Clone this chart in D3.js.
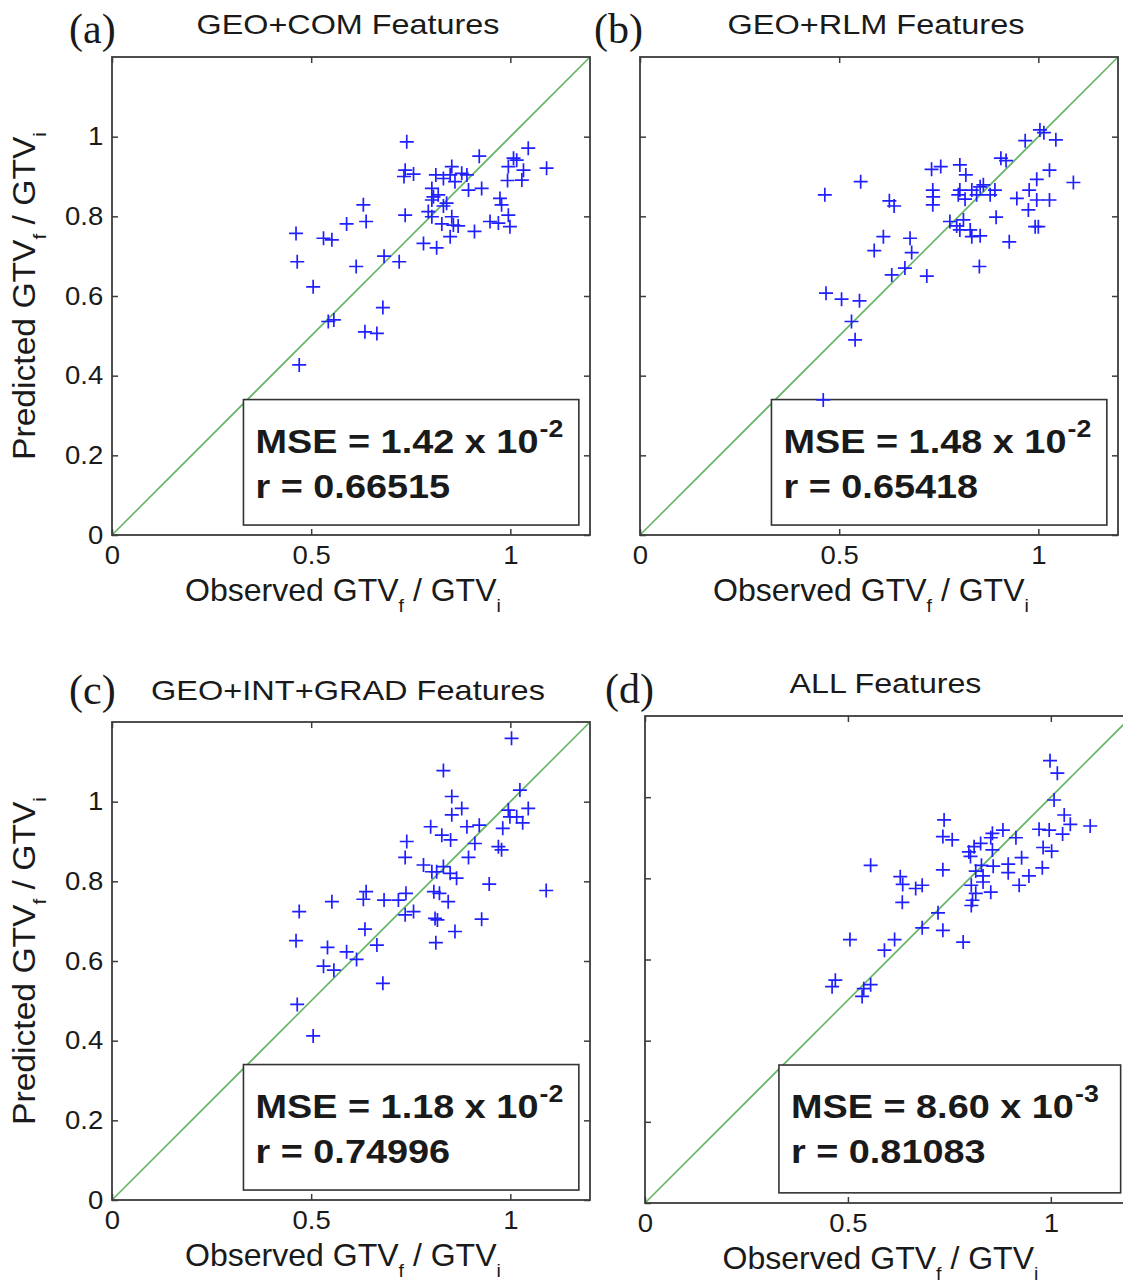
<!DOCTYPE html>
<html><head><meta charset="utf-8">
<script src="https://cdn.jsdelivr.net/npm/d3@7"></script>
<style>body{margin:0;background:#fff}svg{display:block}</style>
</head><body>
<svg id="chart" width="1123" height="1283"></svg>
<script>
// ---- Data ----
const obsA=[0.740,0.922,1.045,1.008,1.016,0.995,1.033,0.993,1.029,1.091,0.736,0.733,0.757,0.853,0.813,0.832,0.849,0.861,0.878,0.891,0.803,0.895,0.928,0.807,0.819,0.803,0.840,0.832,0.974,0.978,0.995,0.794,0.803,0.853,0.828,0.857,0.869,0.849,0.910,0.949,0.970,0.999,0.782,0.815,0.736,0.631,0.638,0.589,0.462,0.531,0.552,0.465,0.613,0.683,0.721,0.505,0.680,0.543,0.557,0.635,0.665,0.470];
const predA=[0.987,0.951,0.971,0.946,0.941,0.925,0.916,0.890,0.891,0.921,0.916,0.900,0.906,0.925,0.904,0.895,0.904,0.887,0.908,0.904,0.870,0.866,0.870,0.849,0.854,0.841,0.833,0.826,0.845,0.829,0.803,0.812,0.799,0.799,0.781,0.778,0.776,0.749,0.762,0.787,0.783,0.774,0.732,0.721,0.803,0.829,0.787,0.781,0.757,0.745,0.741,0.686,0.674,0.700,0.686,0.623,0.571,0.536,0.540,0.510,0.506,0.427];

const obsB=[1.004,1.014,0.967,1.044,0.906,0.919,0.732,0.755,0.803,0.818,1.028,0.996,1.088,0.554,0.464,0.977,0.946,0.996,1.028,0.975,0.735,0.736,0.735,0.803,0.799,0.833,0.854,0.862,0.845,0.879,0.891,0.816,0.626,0.638,0.894,0.778,0.795,0.812,0.803,0.829,0.833,0.854,0.992,1.000,0.927,0.611,0.678,0.588,0.682,0.665,0.632,0.720,0.852,0.467,0.506,0.551,0.531,0.540,0.460];
const predB=[1.017,1.010,0.990,0.992,0.946,0.940,0.918,0.925,0.929,0.904,0.916,0.893,0.885,0.887,0.854,0.866,0.845,0.841,0.841,0.816,0.866,0.849,0.829,0.866,0.854,0.866,0.874,0.879,0.854,0.854,0.866,0.843,0.839,0.826,0.798,0.787,0.776,0.791,0.766,0.766,0.749,0.751,0.774,0.774,0.736,0.749,0.745,0.714,0.709,0.670,0.653,0.650,0.674,0.607,0.592,0.588,0.536,0.490,0.339];

const obsC=[1.003,0.832,1.024,0.853,0.878,0.853,1.045,0.995,0.999,1.016,1.031,0.981,0.800,0.891,0.922,0.828,0.850,0.740,0.911,0.970,0.978,0.736,0.895,0.782,0.803,0.815,0.832,0.849,0.865,0.947,1.090,0.808,0.822,0.844,0.638,0.631,0.552,0.683,0.719,0.738,0.470,0.736,0.757,0.811,0.817,0.928,0.635,0.861,0.462,0.541,0.589,0.665,0.813,0.614,0.531,0.557,0.680,0.465,0.505];
const predC=[1.159,1.078,1.029,1.013,0.983,0.967,0.983,0.979,0.962,0.962,0.947,0.933,0.937,0.937,0.941,0.916,0.904,0.900,0.895,0.887,0.879,0.860,0.860,0.841,0.824,0.824,0.837,0.820,0.808,0.793,0.777,0.774,0.770,0.749,0.774,0.755,0.749,0.753,0.753,0.770,0.724,0.716,0.724,0.707,0.703,0.705,0.680,0.674,0.651,0.634,0.623,0.640,0.646,0.604,0.587,0.577,0.544,0.491,0.412];

const obsD=[0.998,1.016,1.008,0.737,1.033,1.048,1.097,0.882,0.856,0.852,0.914,0.971,0.996,1.029,0.734,0.757,0.827,0.811,0.798,0.856,0.802,0.981,1.002,0.928,0.556,0.734,0.829,0.858,0.895,0.815,0.833,0.895,0.979,0.946,0.922,0.629,0.635,0.667,0.683,0.804,0.833,0.852,0.815,0.807,0.804,0.634,0.722,0.683,0.734,0.784,0.505,0.615,0.590,0.469,0.461,0.556,0.539,0.535];
const predD=[1.090,1.059,0.993,0.944,0.956,0.933,0.929,0.919,0.911,0.900,0.900,0.921,0.919,0.909,0.903,0.895,0.886,0.878,0.865,0.870,0.854,0.876,0.867,0.851,0.832,0.821,0.832,0.830,0.835,0.818,0.806,0.814,0.826,0.806,0.783,0.804,0.785,0.775,0.783,0.783,0.791,0.766,0.763,0.746,0.733,0.741,0.715,0.678,0.672,0.643,0.649,0.649,0.623,0.549,0.533,0.538,0.528,0.509];

const xTicks=[0,0.5,1];
const xTickLabels=["0","0.5","1"];
const yTicks=[0,0.2,0.4,0.6,0.8,1];
const yTickLabels=["0","0.2","0.4","0.6","0.8","1"];
const titles=["GEO+COM Features","GEO+RLM Features","GEO+INT+GRAD Features","ALL Features"];
const letters=["(a)","(b)","(c)","(d)"];
const mseMant=["1.42","1.48","1.18","8.60"];
const mseExp=["-2","-2","-2","-3"];
const rVals=["0.66515","0.65418","0.74996","0.81083"];
const seriesObs=[obsA,obsB,obsC,obsD];
const seriesPred=[predA,predB,predC,predD];

// ---- Layout ----
const layout=[
  {left:112,top:57,size:478,yLab:true,lx:69,ly:43,ty:34,tw:303},
  {left:640,top:57,size:478,yLab:false,lx:594,ly:43,ty:34,tw:297},
  {left:112,top:722,size:478,yLab:true,lx:69,ly:704,ty:700,tw:394},
  {left:645,top:716,size:487,yLab:false,lx:605,ly:703,ty:693,tw:192}
];
const FONT="'Liberation Sans', Arial, sans-serif";
const SERIF="'Liberation Serif', 'Times New Roman', serif";
const INK="#1a1a1a", FRAME="#3c3c3c";

const svg=d3.select("#chart");
svg.append("rect").attr("width",1123).attr("height",1283).attr("fill","#fff");

function fit(sel,x,y,target,rot){
  const w=sel.node().getBBox().width;
  const s=target/w;
  sel.attr("transform",`translate(${x},${y})${rot?" rotate(-90)":""} scale(${s},1)`);
  return s;
}
function gtvLabel(sel,prefix){
  sel.append("tspan").text(prefix+" GTV");
  sel.append("tspan").attr("font-size",19).attr("dy",11).text("f");
  sel.append("tspan").attr("dy",-11).text(" / GTV");
  sel.append("tspan").attr("font-size",19).attr("dy",11).text("i");
}

layout.forEach((L,i)=>{
  const x=d3.scaleLinear().domain([0,1.2]).range([L.left,L.left+L.size]);
  const y=d3.scaleLinear().domain([0,1.2]).range([L.top+L.size,L.top]);
  const g=svg.append("g");

  // identity line
  g.append("line").attr("x1",x(0)).attr("y1",y(0)).attr("x2",x(1.2)).attr("y2",y(1.2))
    .attr("stroke","#62b562").attr("stroke-width",1.6);

  // stats box
  const bx0=x(0.33),bx1=x(1.172),by0=y(0.34),by1=y(0.025);
  g.append("rect").attr("x",bx0).attr("y",by0).attr("width",bx1-bx0).attr("height",by1-by0)
    .attr("fill","#fff").attr("stroke","#333").attr("stroke-width",1.6);

  // points
  const obs=seriesObs[i],pred=seriesPred[i];
  g.append("g").selectAll("path").data(obs.map((o,k)=>[o,pred[k]])).join("path")
    .attr("d",d=>{const px=x(d[0]),py=y(d[1]);return `M${px-7},${py}h14M${px},${py-7}v14`;})
    .attr("stroke","#1f1fff").attr("stroke-width",1.7).attr("fill","none");

  // frame
  g.append("rect").attr("x",x(0)).attr("y",y(1.2)).attr("width",x(1.2)-x(0)).attr("height",y(0)-y(1.2))
    .attr("fill","none").attr("stroke",FRAME).attr("stroke-width",1.8);

  // axes (ticks inward)
  const styleAxis=a=>{a.select(".domain").remove();a.selectAll(".tick line").attr("stroke",FRAME).attr("stroke-width",1.5);
    a.selectAll("text").attr("fill",INK).attr("font-family",FONT).attr("font-size",25);};
  const ab=g.append("g").attr("transform",`translate(0,${y(0)})`)
    .call(d3.axisBottom(x).tickValues(xTicks).tickFormat((d,k)=>xTickLabels[k]).tickSizeInner(-6).tickSizeOuter(0).tickPadding(11));
  styleAxis(ab); ab.selectAll("text").attr("transform","scale(1.1,1)");
  g.append("g").attr("transform",`translate(0,${y(1.2)})`)
    .call(d3.axisTop(x).tickValues(xTicks).tickFormat("").tickSizeInner(-6).tickSizeOuter(0)).call(styleAxis);
  const al=g.append("g").attr("transform",`translate(${x(0)},0)`)
    .call(d3.axisLeft(y).tickValues(yTicks).tickFormat((d,k)=>L.yLab?yTickLabels[k]:"").tickSizeInner(-6).tickSizeOuter(0).tickPadding(8));
  styleAxis(al); al.selectAll("text").attr("transform","scale(1.1,1)");
  g.append("g").attr("transform",`translate(${x(1.2)},0)`)
    .call(d3.axisRight(y).tickValues(yTicks).tickFormat("").tickSizeInner(-6).tickSizeOuter(0)).call(styleAxis);

  // stats text
  const t1=g.append("text").attr("font-family",FONT).attr("font-weight","bold").attr("font-size",34).attr("fill",INK);
  t1.append("tspan").text(`MSE = ${mseMant[i]} x 10`);
  t1.append("tspan").attr("font-size",24).attr("dy",-16).attr("dx",1).text(mseExp[i]);
  const s=fit(t1,bx0+12,by0+53,308);
  g.append("text").attr("font-family",FONT).attr("font-weight","bold").attr("font-size",34).attr("fill",INK)
    .attr("transform",`translate(${bx0+12},${by0+98}) scale(${s},1)`).text(`r = ${rVals[i]}`);

  // title
  const cx=(x(0)+x(1.2))/2;
  const tt=g.append("text").attr("font-family",FONT).attr("font-size",27).attr("fill",INK)
    .attr("text-anchor","middle").text(titles[i]);
  fit(tt,cx-3,L.ty,L.tw);

  // panel letter
  g.append("text").attr("font-family",SERIF).attr("font-size",42).attr("fill",INK)
    .attr("x",L.lx).attr("y",L.ly).text(letters[i]);

  // x label
  const xl=g.append("text").attr("font-family",FONT).attr("font-size",31).attr("fill",INK).attr("text-anchor","middle");
  gtvLabel(xl,"Observed");
  fit(xl,cx-8,y(0)+66,316);

  // y label
  if(L.yLab){
    const yl=g.append("text").attr("font-family",FONT).attr("font-size",31).attr("fill",INK).attr("text-anchor","middle");
    gtvLabel(yl,"Predicted");
    fit(yl,35,(y(0)+y(1.2))/2,328,true);
  }
});
</script>
</body></html>
